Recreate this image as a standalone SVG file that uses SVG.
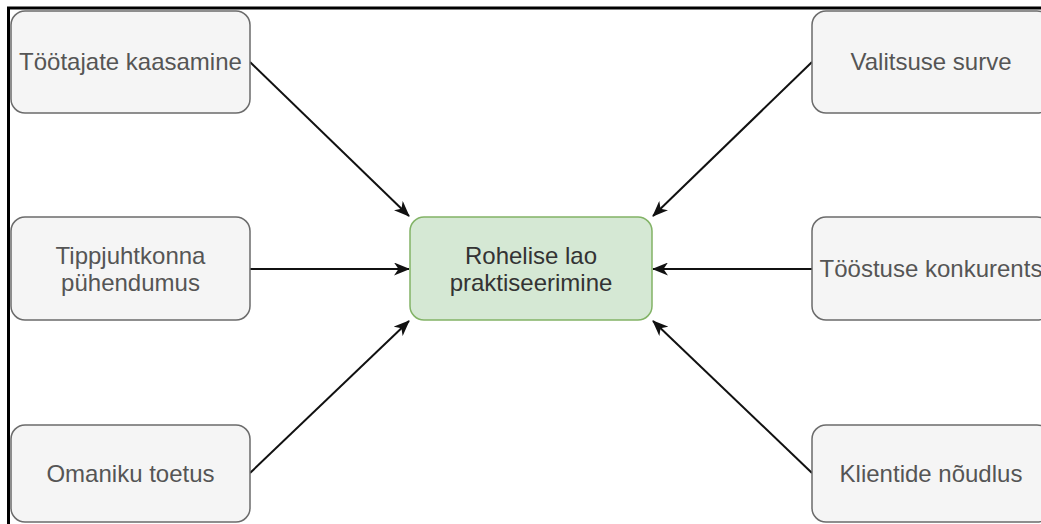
<svg xmlns="http://www.w3.org/2000/svg" width="1041" height="524" viewBox="0 0 1041 524">
  <style>
    .box { fill: #f5f5f5; stroke: #6b6b6b; stroke-width: 1.5; }
    .main { fill: #d5e8d4; stroke: #82b366; stroke-width: 1.5; }
    .lbl { font-family: "Liberation Sans", Arial, sans-serif; font-size: 24px; fill: #555555; text-anchor: middle; }
    .mlbl { font-family: "Liberation Sans", Arial, sans-serif; font-size: 24px; fill: #333333; text-anchor: middle; }
    .edge { stroke: #111111; stroke-width: 2; fill: none; marker-end: url(#arr); }
    .frame { stroke: #000000; stroke-width: 3; fill: none; }
  </style>
  <defs>
    <marker id="arr" viewBox="0 0 16 13" refX="15" refY="6.5" markerWidth="16" markerHeight="13" markerUnits="userSpaceOnUse" orient="auto">
      <path d="M0,0 L16,6.5 L0,13 L4.5,6.5 z" fill="#111111"/>
    </marker>
  </defs>
  <rect width="1041" height="524" fill="#ffffff"/>
  <path class="frame" d="M8.5,524 L8.5,8 L1041,8"/>

  <g id="connectors">
    <line class="edge" x1="250" y1="62" x2="409" y2="216"/>
    <line class="edge" x1="250" y1="269" x2="409" y2="269"/>
    <line class="edge" x1="250" y1="473" x2="409" y2="321"/>
    <line class="edge" x1="812" y1="62" x2="653" y2="216"/>
    <line class="edge" x1="812" y1="269" x2="653" y2="269"/>
    <line class="edge" x1="812" y1="473" x2="653" y2="321"/>
  </g>

  <g id="node-tootajate">
    <rect class="box" x="11" y="11" width="239" height="102" rx="14"/>
    <text class="lbl" x="130.5" y="70">Töötajate kaasamine</text>
  </g>
  <g id="node-tippjuhtkonna">
    <rect class="box" x="11" y="217" width="239" height="103" rx="14"/>
    <text class="lbl" x="130.5" y="264">Tippjuhtkonna</text>
    <text class="lbl" x="130.5" y="291">pühendumus</text>
  </g>
  <g id="node-omaniku">
    <rect class="box" x="11" y="425" width="239" height="97" rx="14"/>
    <text class="lbl" x="130.5" y="482">Omaniku toetus</text>
  </g>
  <g id="node-rohelise">
    <rect class="main" x="410" y="217" width="242" height="103" rx="14"/>
    <text class="mlbl" x="531" y="264">Rohelise lao</text>
    <text class="mlbl" x="531" y="291">praktiseerimine</text>
  </g>
  <g id="node-valitsuse">
    <rect class="box" x="812" y="11" width="239" height="102" rx="14"/>
    <text class="lbl" x="931" y="70">Valitsuse surve</text>
  </g>
  <g id="node-toostuse">
    <rect class="box" x="812" y="217" width="239" height="103" rx="14"/>
    <text class="lbl" x="931" y="277">Tööstuse konkurents</text>
  </g>
  <g id="node-klientide">
    <rect class="box" x="812" y="425" width="239" height="97" rx="14"/>
    <text class="lbl" x="931" y="482">Klientide nõudlus</text>
  </g>
</svg>
